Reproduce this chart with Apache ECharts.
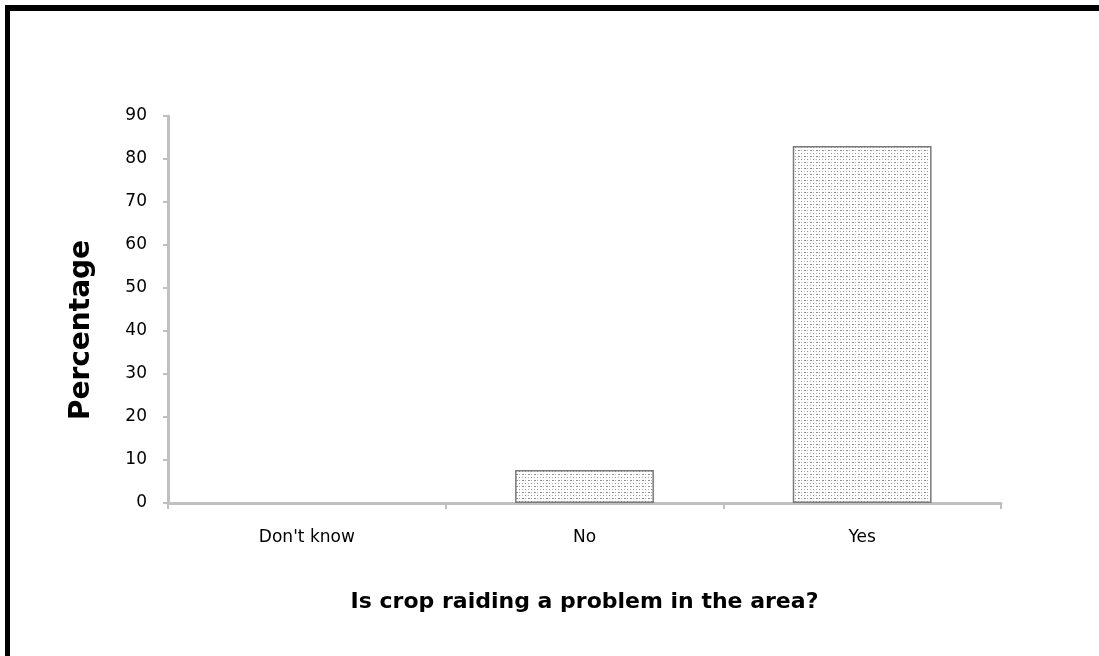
<!DOCTYPE html>
<html>
<head>
<meta charset="utf-8">
<script src="https://cdn.jsdelivr.net/npm/echarts@6/dist/echarts.min.js"></script>
<style>html,body{margin:0;padding:0;background:#fff;}#c{width:1099px;height:656px;}</style>
</head>
<body>
<div id="c"></div>
<script>
const categories = ["Don't know", "No", "Yes"];
const percentages = [0, 7.7, 83.0];
const yTicks = [0, 10, 20, 30, 40, 50, 60, 70, 80, 90];
const xTitle = "Is crop raiding a problem in the area?";
const yTitle = "Percentage";

function makePattern() {
  const c = document.createElement('canvas');
  c.width = 6; c.height = 6;
  const ctx = c.getContext('2d');
  ctx.fillStyle = '#ffffff';
  ctx.fillRect(0, 0, 6, 6);
  ctx.fillStyle = '#909090';
  ctx.fillRect(0, 0, 2, 1);
  ctx.fillRect(3, 3, 1, 1);
  ctx.fillStyle = '#b0b0b0';
  ctx.fillRect(3, 0, 1, 1);
  ctx.fillRect(0, 3, 1, 1);
  return c;
}

const pattern = makePattern();
const chart = echarts.init(document.getElementById('c'), null, {renderer: 'canvas'});
const font = '"DejaVu Sans", Verdana, sans-serif';
chart.setOption({
  animation: false,
  backgroundColor: '#ffffff',
  grid: {left: 168, right: 98, top: 116, bottom: 153, containLabel: false},
  xAxis: {
    type: 'category',
    data: categories,
    axisLine: {lineStyle: {color: '#c0c0c0', width: 3}},
    axisTick: {show: true, length: 6, inside: false, lineStyle: {color: '#c0c0c0', width: 2}},
    axisLabel: {color: '#000', fontFamily: font, fontSize: 17, margin: 26},
    name: xTitle,
    nameLocation: 'middle',
    nameGap: 88,
    nameTextStyle: {color: '#000', fontFamily: font, fontSize: 22, fontWeight: 'bold'}
  },
  yAxis: {
    type: 'value',
    min: 0, max: 90, interval: 10,
    axisLine: {show: true, lineStyle: {color: '#c0c0c0', width: 3}},
    axisTick: {show: true, length: 5, lineStyle: {color: '#c0c0c0', width: 2}},
    splitLine: {show: false},
    axisLabel: {color: '#000', fontFamily: font, fontSize: 17, margin: 21}
  },
  series: [{
    type: 'bar',
    data: percentages.map(v => v === 0 ? {value: v, itemStyle: {borderWidth: 0, opacity: 0}} : v),
    barWidth: '50%',
    itemStyle: {
      color: {image: pattern, repeat: 'repeat'},
      borderColor: '#7a7a7a',
      borderWidth: 1.5
    }
  }],
  graphic: [
    {type: 'rect', shape: {x: 5, y: 5, width: 1094, height: 6}, style: {fill: '#000'}},
    {type: 'rect', shape: {x: 5, y: 5, width: 5, height: 651}, style: {fill: '#000'}},
    {type: 'text', x: 82, y: 330, rotation: Math.PI / 2,
     style: {text: yTitle, fill: '#000', font: 'bold 28px "DejaVu Sans", Verdana, sans-serif',
             align: 'center', verticalAlign: 'middle'}}
  ]
});
</script>
</body>
</html>
